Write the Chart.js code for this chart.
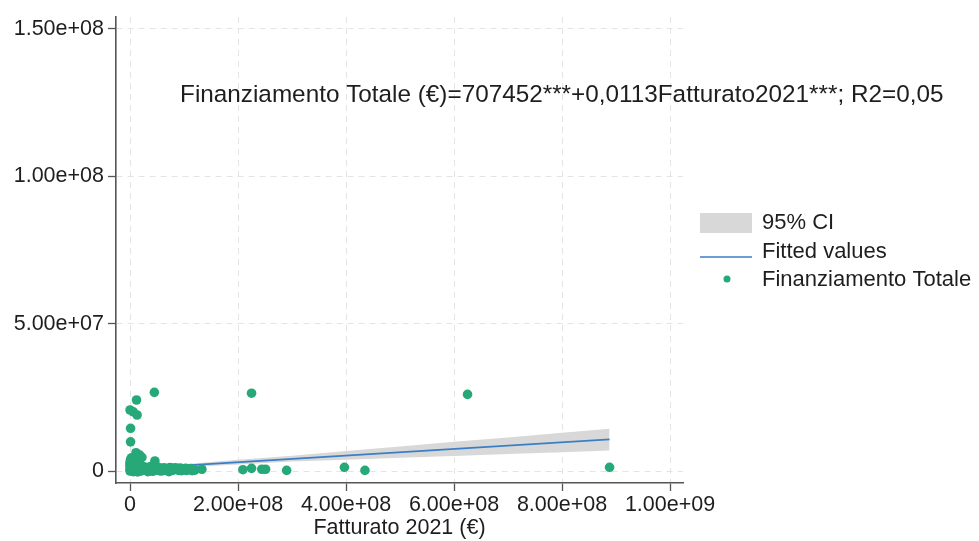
<!DOCTYPE html>
<html>
<head>
<meta charset="utf-8">
<script src="https://cdn.jsdelivr.net/npm/chart.js@4/dist/chart.umd.min.js"></script>
<style>
  html, body { margin: 0; padding: 0; background: #ffffff; }
  #wrap { width: 979px; height: 541px; position: relative; }
</style>
</head>
<body>
<div id="wrap"><canvas id="c"></canvas></div>
<script>
// ---- data ----
const finX = [4.5e7, 2.25e8, 6.25e8, 1.2e7, 0, 6e6, 1.3e7, 1e6, 1e6, 1.1e7, 1.8e7, 2.2e7, 4.6e7,
  1.33e8, 2.09e8, 2.25e8, 2.44e8, 2.51e8, 2.9e8, 3.97e8, 4.35e8, 8.88e8,
  0, 2e6, 5e6, 3e6, 8e6, 1e6, 4e6, 7e6, 1e7, 1.2e7, 1.5e7, 1.8e7, 2e7, 2.3e7, 2.6e7, 3e7,
  0, 2e6, 6e6, 9e6, 1.4e7, 2e7, 0, 1e6, 3e6, 5e6, 1.6e7, 2.8e7,
  3.5e7, 4e7, 4.5e7, 5e7, 5.5e7, 6e7, 6.5e7, 7e7, 7.5e7, 8e7, 8.5e7, 9e7, 9.5e7, 1e8, 1.05e8,
  1.1e8, 1.15e8, 1.2e8, 3.3e7, 4.2e7, 5.8e7, 7.2e7,
  0, 0, 3e6, 5e6, 8e6, 1e7, 1.3e7, 1.5e7, 1.7e7, 2.2e7, 4e6, 9e6, 1.2e7, 6e6,
  3.2e7, 3.8e7, 4.4e7, 5.2e7, 5.8e7, 6.3e7, 6.8e7, 7.4e7, 7.9e7, 8.4e7, 8.9e7, 9.3e7, 9.8e7,
  1.03e8, 1.08e8, 1.13e8, 1.18e8];
const finY = [2.67e7, 2.64e7, 2.6e7, 2.41e7, 2.07e7, 2.01e7, 1.9e7, 1.45e7, 9.9e6, 6.2e6, 5.4e6, 4.6e6, 3.4e6,
  6e5, 4.5e5, 9e5, 6e5, 6e5, 2e5, 1.25e6, 2e5, 1.25e6,
  3e6, 2.5e6, 3.2e6, 1.8e6, 2.2e6, 1e6, 5e5, 1.2e6, 8e5, 1.6e6, 4e5, 1e6, 2e6, 6e5, 1.4e6, 3e5,
  0, 2e5, -2e5, 1e5, -3e5, 0, 5e5, 4e6, 4.5e6, 1.5e6, 2.6e6, 9e5,
  5e5, 2e5, 7e5, 3e5, 1e5, 5e5, 2e5, 4e5, 1e5, 3e5, 6e5, 2e5, 1e5, 4e5, 2e5,
  5e5, 1e5, 3e5, -2e5, -1e5, 0, -2e5,
  1.5e6, 2.2e6, 3.5e6, 2.8e6, 3e6, 2.5e6, 2e6, 1.2e6, 2.8e6, 1.5e6, 1.2e6, 1.8e6, 4e5, 9e5,
  1.2e6, 1.5e6, 1e6, 1.3e6, 9e5, 1.1e6, 8e5, 1.2e6, 9e5, 1.1e6, 8e5, 1e6, 7e5,
  9e5, 6e5, 8e5, 5e5];

const fitX = [0, 8.88e8];
const fitY = [7.1e5, 1.074e7];

const ciX     = [0,     1e8,   2e8,   3e8,   4e8,   5e8,   6e8,   7e8,   8e8,    8.88e8];
const ciUpper = [1.0e6, 2.3e6, 3.8e6, 5.2e6, 6.8e6, 8.3e6, 9.9e6, 11.4e6, 13.0e6, 14.3e6];
const ciLower = [0.4e6, 1.3e6, 2.2e6, 3.2e6, 3.8e6, 4.5e6, 5.1e6, 5.8e6, 6.4e6,  7.0e6];

const xTickValues = [0, 2e8, 4e8, 6e8, 8e8, 1e9];
const xTickLabels = ['0', '2.00e+08', '4.00e+08', '6.00e+08', '8.00e+08', '1.00e+09'];
const yTickValues = [0, 5e7, 1e8, 1.5e8];
const yTickLabels = ['0', '5.00e+07', '1.00e+08', '1.50e+08'];

const seriesLabels = ['95% CI', 'Fitted values', 'Finanziamento Totale'];
const xTitle = 'Fatturato 2021 (€)';
const annotationText = 'Finanziamento Totale (€)=707452***+0,0113Fatturato2021***; R2=0,05';
const annotationAt = [9.26e7, 1.2746e8];

// ---- styles ----
const FONT = '"Liberation Sans", Arial, sans-serif';
const TXT = '#1e1e1e';
const GREEN = '#27a878';
const BLUE = '#3a7fc6';
const BAND = '#d8d8d8';

const annotationPlugin = {
  id: 'annot',
  afterDraw(chart) {
    const ctx = chart.ctx;
    const xs = chart.scales.x, ys = chart.scales.y;
    ctx.save();
    ctx.font = '24.3px ' + FONT;
    ctx.fillStyle = TXT;
    ctx.textAlign = 'left';
    ctx.textBaseline = 'middle';
    ctx.fillText(annotationText, xs.getPixelForValue(annotationAt[0]), ys.getPixelForValue(annotationAt[1]));
    ctx.restore();
  }
};

const legendPlugin = {
  id: 'customLegend',
  afterDraw(chart) {
    const ctx = chart.ctx;
    const x0 = chart.chartArea.right + 17;
    ctx.save();
    ctx.font = '22px ' + FONT;
    ctx.fillStyle = TXT;
    ctx.textBaseline = 'middle';
    ctx.textAlign = 'left';
    // CI
    ctx.fillStyle = BAND;
    ctx.fillRect(x0, 213, 52, 20);
    ctx.fillStyle = TXT;
    ctx.fillText(seriesLabels[0], x0 + 62, 223);
    // fitted
    ctx.strokeStyle = BLUE;
    ctx.lineWidth = 1.6;
    ctx.beginPath(); ctx.moveTo(x0, 257); ctx.lineTo(x0 + 52, 257); ctx.stroke();
    ctx.fillText(seriesLabels[1], x0 + 62, 252);
    // points
    ctx.fillStyle = GREEN;
    ctx.beginPath(); ctx.arc(x0 + 27, 279, 3.5, 0, Math.PI * 2); ctx.fill();
    ctx.fillStyle = TXT;
    ctx.fillText(seriesLabels[2], x0 + 62, 280);
    ctx.restore();
  }
};

const toXY = (xs, ys) => xs.map((v, i) => ({ x: v, y: ys[i] }));

new Chart(document.getElementById('c'), {
  type: 'scatter',
  data: {
    datasets: [
      { label: seriesLabels[2], data: toXY(finX, finY), backgroundColor: GREEN, borderColor: GREEN,
        pointRadius: 4.8, pointBorderWidth: 0, order: 0 },
      { type: 'line', label: seriesLabels[1], data: toXY(fitX, fitY), borderColor: BLUE, borderWidth: 1.6,
        pointRadius: 0, fill: false, order: 1 },
      { type: 'line', label: seriesLabels[0], data: toXY(ciX, ciUpper), borderWidth: 0, borderColor: 'rgba(0,0,0,0)',
        backgroundColor: BAND, pointRadius: 0, fill: 3, order: 2 },
      { type: 'line', label: seriesLabels[0] + ' low', data: toXY(ciX, ciLower), borderWidth: 0, borderColor: 'rgba(0,0,0,0)',
        pointRadius: 0, fill: false, order: 3 }
    ]
  },
  options: {
    responsive: true,
    maintainAspectRatio: false,
    animation: false,
    devicePixelRatio: 1,
    layout: { padding: { top: 17, right: 296, left: 0, bottom: 0 } },
    plugins: { legend: { display: false }, tooltip: { enabled: false } },
    scales: {
      x: {
        type: 'linear', min: -2.6e7, max: 1.024e9,
        afterBuildTicks: s => { s.ticks = xTickValues.map(v => ({ value: v })); },
        afterFit: s => { s.height = 58; },
        ticks: { callback: (v, i) => xTickLabels[i], font: { family: FONT, size: 21.5 }, color: TXT, padding: 1, maxRotation: 0, autoSkip: false },
        grid: { color: '#e4e4e4', lineWidth: 1, tickColor: '#555555', tickLength: 8, tickWidth: 1.3, tickBorderDash: [] },
        border: { display: true, color: '#555555', width: 1.6, dash: [6, 5] },
        title: { display: true, text: xTitle, font: { family: FONT, size: 21.5 }, color: TXT, padding: { top: 0, bottom: 0 } }
      },
      y: {
        type: 'linear', min: -4.07e6, max: 1.5407e8,
        afterBuildTicks: s => { s.ticks = yTickValues.map(v => ({ value: v })); },
        afterFit: s => { s.width = 116; },
        ticks: { callback: (v, i) => yTickLabels[i], font: { family: FONT, size: 21.5 }, color: TXT, padding: 4, autoSkip: false },
        grid: { color: '#e4e4e4', lineWidth: 1, tickColor: '#555555', tickLength: 8, tickWidth: 1.3, tickBorderDash: [] },
        border: { display: true, color: '#555555', width: 1.6, dash: [6, 5] }
      }
    }
  },
  plugins: [annotationPlugin, legendPlugin]
});
</script>
</body>
</html>
